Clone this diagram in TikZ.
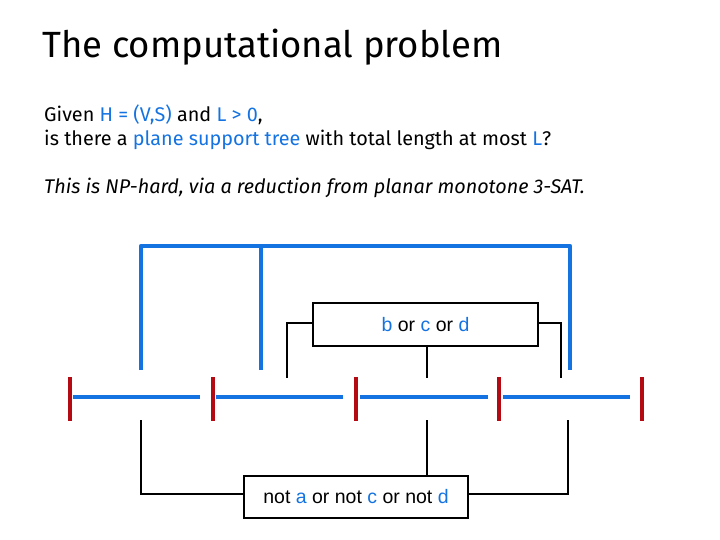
\documentclass[tikz,border=0pt]{standalone}
\usepackage{fontspec}
\setmainfont{Fira Sans}
\newfontfamily\arialf{Liberation Sans}
\definecolor{bl}{RGB}{20,115,225}
\definecolor{rd}{RGB}{180,10,20}
\begin{document}
\begin{tikzpicture}[x=1pt,y=-1pt,
  seg/.style={bl,line width=4.5pt},
  tick/.style={rd,line width=4.5pt},
  wire/.style={black,line width=2.5pt},
  clause/.style={draw,line width=2.5pt,inner sep=0pt,font=\arialf\fontsize{19.5}{22}\selectfont},
  txt/.style={anchor=base west,inner sep=0pt,font=\fontsize{19.8}{23}\selectfont}]
\useasboundingbox (0,0) rectangle (720,540);
\node[anchor=base west,inner sep=0pt,font=\fontsize{36.5}{42}\selectfont] (title) at (42,58) {The computational problem};
\node[txt] (l1) at (44,122) {Given \textcolor{bl}{H = (V,S)} and \textcolor{bl}{L > 0},};
\node[txt] (l2) at (44,146) {is there a \textcolor{bl}{plane support tree} with total length at most \textcolor{bl}{L}?};
\node[txt] (l3) at (44,194) {\itshape This is NP-hard, via a reduction from planar monotone 3-SAT.};
% segments
\foreach \a/\b [count=\i] in {73/200,216/343,360/488,503/630}{
  \coordinate (s\i a) at (\a,397); \coordinate (s\i b) at (\b,397);
  \draw[seg] (s\i a) -- (s\i b);}
\foreach \x [count=\i] in {70,213,356,499,642}{
  \coordinate (t\i a) at (\x,377); \coordinate (t\i b) at (\x,421);
  \draw[tick] (t\i a) -- (t\i b);}
% blue tree
\coordinate (v1) at (141,370); \coordinate (v2) at (261,370); \coordinate (v3) at (570,370);
\coordinate (h1) at (141,246); \coordinate (h2) at (570,246); \coordinate (h3) at (261,248);
\draw[seg,line join=round] (v1) -- (h1) -- (h2) -- (v3);
\draw[seg] (v2) -- (h3);
% clause boxes
\node[clause,minimum width=225pt,minimum height=43pt] (c1) at (425.5,324.5) {\textcolor{bl}{b} or \textcolor{bl}{c} or \textcolor{bl}{d}};
\node[clause,minimum width=224pt,minimum height=42pt] (c2) at (356,497) {not \textcolor{bl}{a} or not \textcolor{bl}{c} or not \textcolor{bl}{d}};
\coordinate (p1) at (287,378); \coordinate (p2) at (427,378); \coordinate (p3) at (561,378);
\draw[wire] (c1.west |- 0,323) -| (p1);
\draw[wire] (c1.east |- 0,323) -| (p3);
\draw[wire] (c1.south -| p2) -- (p2);
\coordinate (q1) at (141,420); \coordinate (q2) at (427,420); \coordinate (q3) at (568,420);
\draw[wire] (c2.west |- 0,494) -| (q1);
\draw[wire] (c2.east |- 0,494) -| (q3);
\draw[wire] (c2.north -| q2) -- (q2);
\end{tikzpicture}
\end{document}
